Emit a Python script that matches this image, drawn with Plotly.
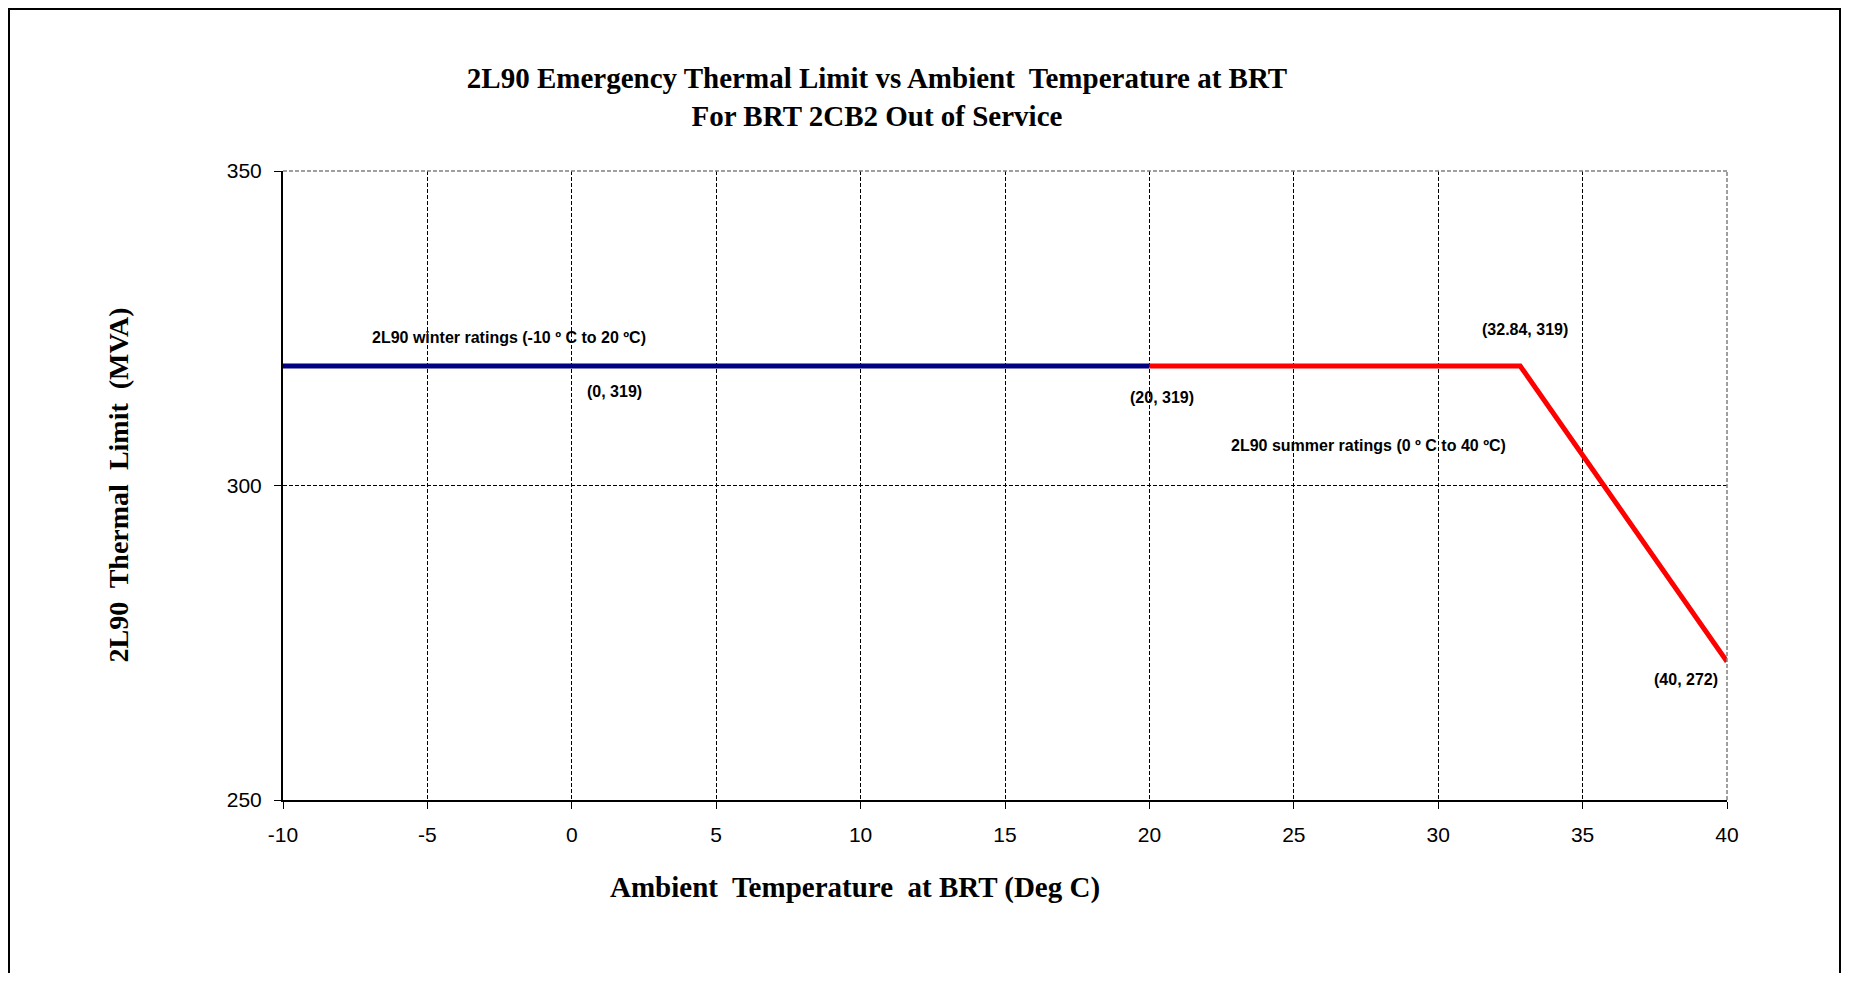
import plotly.graph_objects as go

# winter rating segment
winter_temp = [-10, 20]
winter_mva = [319, 319]

# summer rating segment
summer_temp = [20, 32.84, 40]
summer_mva = [319, 319, 272]

x_ticks = [-10, -5, 0, 5, 10, 15, 20, 25, 30, 35, 40]
x_tick_labels = ["-10", "-5", "0", "5", "10", "15", "20", "25", "30", "35", "40"]
y_ticks = [250, 300, 350]

title_text = ("2L90 Emergency Thermal Limit vs Ambient  Temperature at BRT<br>"
              "For BRT 2CB2 Out of Service")

serif = "Liberation Serif, Times New Roman, serif"
sans = "Liberation Sans, Arial, sans-serif"
narrow = "Liberation Sans Narrow, Arial Narrow, Liberation Sans, sans-serif"

# page body has an 8px margin, so the figure is sized to fit the window
W, H = 1834, 965
L, R, T, B = 275, 115, 163, 173
pw, ph = W - L - R, H - T - B

fig = go.Figure()

fig.add_trace(go.Scatter(
    x=winter_temp, y=winter_mva, mode="lines",
    line=dict(color="#000080", width=5), showlegend=False,
))
fig.add_trace(go.Scatter(
    x=summer_temp, y=summer_mva, mode="lines",
    line=dict(color="#ff0000", width=5), showlegend=False,
))

# point labels, offset in pixels from the data point
point_labels = [
    ("(0, 319)", 0, 319, 43, -26),
    ("(20, 319)", 20, 319, 13, -32),
    ("(32.84, 319)", 32.84, 319, 5, 36),
    ("(40, 272)", 40, 272, -41, -18),
]
for txt, px, py, dx, dy in point_labels:
    fig.add_annotation(x=px, y=py, text="<b>" + txt + "</b>", showarrow=False,
                       xshift=dx, yshift=dy,
                       font=dict(family=narrow, size=16, color="black"))

fig.add_annotation(x=-2.16, y=323.6, text="<b>2L90 winter ratings (-10 º C to 20 ºC)</b>",
                   showarrow=False, font=dict(family=narrow, size=16, color="black"))
fig.add_annotation(x=27.57, y=306.4, text="<b>2L90 summer ratings (0 º C to 40 ºC)</b>",
                   showarrow=False, font=dict(family=narrow, size=16, color="black"))

# x axis title sits left of the plot centre in the original
fig.add_annotation(xref="paper", yref="paper", x=(855 - 8 - L) / pw, y=-(887 - 8 - (T + ph)) / ph,
                   xanchor="center", yanchor="middle",
                   text="<b>Ambient  Temperature  at BRT (Deg C)</b>", showarrow=False,
                   font=dict(family=serif, size=29, color="black"))

# y axis title
fig.add_annotation(xref="paper", yref="paper", x=-(L - (118 - 8)) / pw, y=0.5,
                   xanchor="center", yanchor="middle",
                   text="<b>2L90  Thermal  Limit  (MVA)</b>", showarrow=False, textangle=-90,
                   font=dict(family=serif, size=28, color="black"))

# chart area border
fig.add_shape(type="rect", xref="paper", yref="paper",
              x0=-(L - 1) / pw, x1=(W - 2 - L) / pw,
              y0=-(B + 30) / ph, y1=(ph + T - 1) / ph,
              line=dict(color="black", width=2), layer="below")

# grey dashed frame on top and right of the plot area
fig.add_shape(type="line", xref="paper", yref="paper", x0=0, x1=1, y0=1, y1=1,
              line=dict(color="#808080", width=1.5, dash="4px,2px"))
fig.add_shape(type="line", xref="paper", yref="paper", x0=1, x1=1, y0=0, y1=1,
              line=dict(color="#808080", width=1.5, dash="4px,2px"))

fig.update_xaxes(
    range=[-10, 40], tickvals=x_ticks, ticktext=x_tick_labels,
    ticks="outside", ticklen=7, tickcolor="black", ticklabelstandoff=8,
    showline=True, linecolor="black", linewidth=2,
    showgrid=True, gridcolor="black", griddash="4px,2px", gridwidth=1,
    zeroline=False, tickfont=dict(family=sans, size=21, color="black"),
)
fig.update_yaxes(
    range=[250, 350], tickvals=y_ticks,
    ticks="outside", ticklen=7, tickcolor="black", ticklabelstandoff=8,
    showline=True, linecolor="black", linewidth=2,
    showgrid=True, gridcolor="black", griddash="4px,2px", gridwidth=1,
    zeroline=False, tickfont=dict(family=sans, size=21, color="black"),
)

fig.update_layout(
    width=W, height=H,
    margin=dict(l=L, r=R, t=T, b=B),
    paper_bgcolor="white", plot_bgcolor="white",
    title=dict(text="<b>" + title_text + "</b>", x=869 / W, xanchor="center",
               y=1 - 80 / H, yanchor="middle",
               font=dict(family=serif, size=29, color="black")),
)

fig.write_html("out.html")
